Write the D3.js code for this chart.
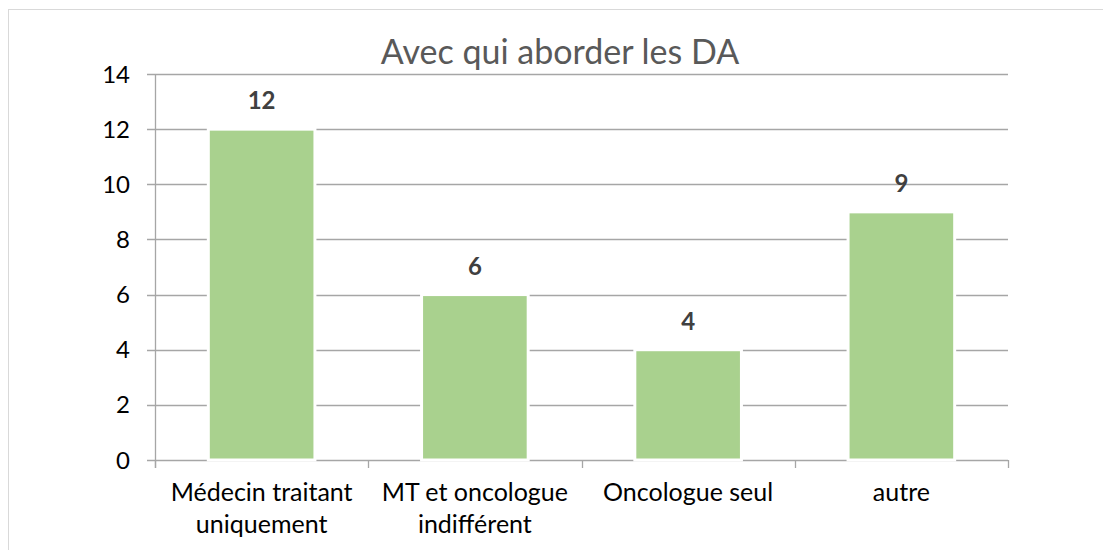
<!DOCTYPE html>
<html>
<head>
<meta charset="utf-8">
<script src="https://cdn.jsdelivr.net/npm/d3@7"></script>
<style>
  body { margin: 0; background: #fff; }
  svg { display: block; font-family: Lato, "Open Sans", sans-serif; }
</style>
</head>
<body>
<div id="chart"></div>
<script>
// data
const categories = [["Médecin traitant", "uniquement"], ["MT et oncologue", "indifférent"], ["Oncologue seul"], ["autre"]];
const values = [12, 6, 4, 9];
const yTicks = [0, 2, 4, 6, 8, 10, 12, 14];
const title = "Avec qui aborder les DA";

const width = 1103, height = 550;
const margin = {top: 74, right: 95, bottom: 90, left: 155};

const svg = d3.select("#chart").append("svg")
    .attr("width", width)
    .attr("height", height);

// chart frame
svg.append("rect")
    .attr("x", 8.5).attr("y", 9.5)
    .attr("width", 1110).attr("height", 560)
    .attr("fill", "none")
    .attr("stroke", "#d9d9d9");

const x = d3.scaleBand()
    .domain(d3.range(categories.length))
    .range([margin.left, width - margin.right])
    .paddingInner(0.5)
    .paddingOuter(0.25);

const y = d3.scaleLinear()
    .domain([0, 14])
    .range([height - margin.bottom, margin.top]);

const grey = "#a6a6a6";

// gridlines
svg.append("g").selectAll("line")
    .data(yTicks)
    .enter().append("line")
    .attr("x1", margin.left - 8)
    .attr("x2", width - margin.right)
    .attr("y1", d => Math.round(y(d)) + 0.5)
    .attr("y2", d => Math.round(y(d)) + 0.5)
    .attr("stroke", grey)
    .attr("stroke-width", 1.3);

// y axis line
svg.append("line")
    .attr("x1", margin.left + 0.5).attr("x2", margin.left + 0.5)
    .attr("y1", y(14)).attr("y2", y(0) + 8)
    .attr("stroke", grey).attr("stroke-width", 1.3);

// category ticks
const step = x.step();
svg.append("g").selectAll("line")
    .data(d3.range(categories.length + 1))
    .enter().append("line")
    .attr("x1", d => Math.round(margin.left + d * step) + 0.5)
    .attr("x2", d => Math.round(margin.left + d * step) + 0.5)
    .attr("y1", y(0))
    .attr("y2", y(0) + 8)
    .attr("stroke", grey).attr("stroke-width", 1.3);

// y labels
svg.append("g").selectAll("text")
    .data(yTicks)
    .enter().append("text")
    .attr("x", 130)
    .attr("y", d => y(d))
    .attr("dy", "0.36em")
    .attr("text-anchor", "end")
    .attr("font-size", 24)
    .attr("fill", "#000")
    .text(d => d);

// bars
svg.append("g").selectAll("rect")
    .data(values)
    .enter().append("rect")
    .attr("x", (d, i) => x(i))
    .attr("y", d => y(d))
    .attr("width", x.bandwidth())
    .attr("height", d => y(0) - y(d))
    .attr("fill", "#a9d18e")
    .attr("stroke", "#fff")
    .attr("stroke-width", 3);

// value labels
svg.append("g").selectAll("text")
    .data(values)
    .enter().append("text")
    .attr("x", (d, i) => x(i) + x.bandwidth() / 2)
    .attr("y", d => y(d) - 20)
    .attr("text-anchor", "middle")
    .attr("font-size", 24)
    .attr("font-weight", "bold")
    .attr("fill", "#404040")
    .text(d => d);

// category labels
const cat = svg.append("g").selectAll("text")
    .data(categories)
    .enter().append("text")
    .attr("x", (d, i) => x(i) + x.bandwidth() / 2)
    .attr("y", 501)
    .attr("text-anchor", "middle")
    .attr("font-size", 25)
    .attr("fill", "#000");
cat.selectAll("tspan")
    .data(d => d)
    .enter().append("tspan")
    .attr("x", function() { return d3.select(this.parentNode).attr("x"); })
    .attr("dy", (d, i) => i === 0 ? 0 : 32)
    .text(d => d);

// title
svg.append("text")
    .attr("x", 560)
    .attr("y", 64)
    .attr("text-anchor", "middle")
    .attr("font-size", 34)
    .attr("fill", "#595959")
    .text(title);
</script>
</body>
</html>
